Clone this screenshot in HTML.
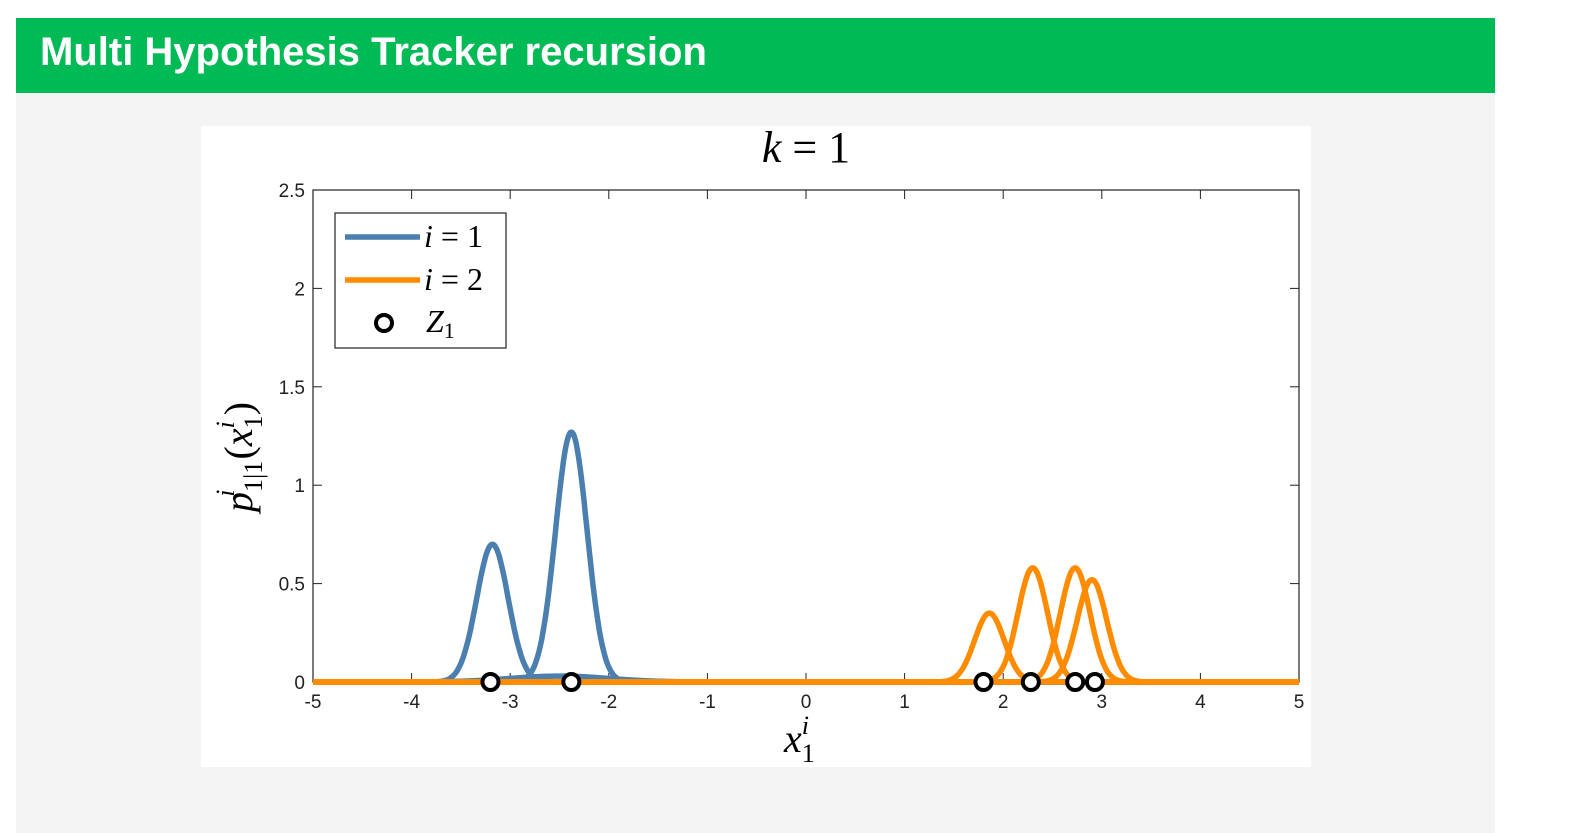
<!DOCTYPE html>
<html><head><meta charset="utf-8"><style>
body{margin:0;width:1580px;height:825px;background:#fff;position:relative;overflow:hidden;font-family:"Liberation Sans",sans-serif}
#hdr{position:absolute;left:16px;top:18px;width:1479px;height:75px;background:#00bb55}
#hdr span{position:absolute;left:24px;top:12px;color:#fff;font-weight:bold;font-size:40px}
#panel{position:absolute;left:16px;top:93px;width:1479px;height:740px;background:#f4f4f4}
#fig{position:absolute;left:201px;top:126px;width:1110px;height:641px;background:#fff}
svg{position:absolute;left:0;top:0}
</style></head><body>
<div id="hdr"><span>Multi Hypothesis Tracker recursion</span></div>
<div id="panel"></div>
<div id="fig"></div>
<svg id="chart" width="1580" height="825"></svg>
<script>
const xTicks=[-5,-4,-3,-2,-1,0,1,2,3,4,5];
const yTicks=[0,0.5,1,1.5,2,2.5];
const yTickLabels=["0","0.5","1","1.5","2","2.5"];
const blueMeans=[-3.18,-2.38,-2.5];
const blueAmps=[0.70,1.27,0.03];
const blueSigmas=[0.16,0.16,0.5];
const orangeMeans=[1.86,2.30,2.73,2.90];
const orangeAmps=[0.35,0.58,0.58,0.52];
const orangeSigmas=[0.15,0.15,0.15,0.15];
const measurements=[-3.20,-2.38,1.80,2.28,2.73,2.93];

const NS="http://www.w3.org/2000/svg";
const svg=document.getElementById('chart');
const X0=313,X1=1299,Y0=682,Y1=190;
const sx=v=>X0+(v+5)/10*(X1-X0);
const sy=v=>Y0-(v/2.5)*(Y0-Y1);
function mk(t,a,p){const e=document.createElementNS(NS,t);for(const k in a)e.setAttribute(k,a[k]);(p||svg).appendChild(e);return e;}
const box=mk('rect',{x:X0,y:Y1,width:X1-X0,height:Y0-Y1,fill:'none',stroke:'#222','stroke-width':1.2});


xTicks.forEach(t=>{
 const x=sx(t);
 const a=mk('line',{x1:x,x2:x,y1:Y0,y2:Y0-9,stroke:'#222'});
 
 
 mk('line',{x1:x,x2:x,y1:Y1,y2:Y1+9,stroke:'#222'});
 const l=mk('text',{x:x,y:Y0+26,'text-anchor':'middle','font-size':19,fill:'#222'});
 l.textContent=String(t);
 
 
});
yTicks.forEach((t,i)=>{
 const y=sy(t);
 mk('line',{x1:X0,x2:X0+9,y1:y,y2:y,stroke:'#222'});
 mk('line',{x1:X1,x2:X1-9,y1:y,y2:y,stroke:'#222'});
 const l=mk('text',{x:X0-8,y:y+7,'text-anchor':'end','font-size':19,fill:'#222'});
 l.textContent=yTickLabels[i];
 
 
});
function curvePath(m,a,s){let d='';for(let i=0;i<=1000;i++){const x=-5+i*0.01;const y=a*Math.exp(-0.5*((x-m)/s)**2);d+=(i?'L':'M')+sx(x).toFixed(1)+','+sy(y).toFixed(1);}return d;}
blueMeans.forEach((m,i)=>{
 const p=mk('path',{d:curvePath(m,blueAmps[i],blueSigmas[i]),fill:'none',stroke:'#4a7fb0','stroke-width':5.5,'stroke-linejoin':'round'});
 
 
});
orangeMeans.forEach((m,i)=>{
 const p=mk('path',{d:curvePath(m,orangeAmps[i],orangeSigmas[i]),fill:'none',stroke:'#ff8c00','stroke-width':5.5,'stroke-linejoin':'round'});
 
 
});
measurements.forEach(v=>{
 const c=mk('circle',{cx:sx(v),cy:sy(0),r:8,fill:'#fff',stroke:'#000','stroke-width':4});
 
 
});
const lg=mk('g',{});


mk('rect',{x:335,y:213,width:171,height:135,fill:'#fff',stroke:'#222','stroke-width':1.2},lg);
mk('line',{x1:345,x2:420,y1:237,y2:237,stroke:'#4a7fb0','stroke-width':5.5},lg);
mk('line',{x1:345,x2:420,y1:280,y2:280,stroke:'#ff8c00','stroke-width':5.5},lg);
mk('circle',{cx:384,cy:323,r:8,fill:'#fff',stroke:'#000','stroke-width':4},lg);
const f='font-family:"Liberation Serif",serif;font-size:32px';
const t1=mk('text',{x:424,y:247,style:f},lg);t1.innerHTML='<tspan font-style="italic">i</tspan> = 1';
const t2=mk('text',{x:424,y:290,style:f},lg);t2.innerHTML='<tspan font-style="italic">i</tspan> = 2';
const t3=mk('text',{x:426,y:332,style:f},lg);t3.innerHTML='<tspan font-style="italic">Z</tspan><tspan font-size="22" dy="6">1</tspan>';
const title=mk('text',{x:806,y:162,'text-anchor':'middle',style:'font-family:"Liberation Serif",serif;font-size:44px'});
title.innerHTML='<tspan font-style="italic">k</tspan> = 1';


const xl=mk('text',{x:784,y:752,style:'font-family:"Liberation Serif",serif;font-size:40px'});
xl.innerHTML='<tspan font-style="italic">x</tspan><tspan font-size="26" dy="10">1</tspan><tspan font-size="26" font-style="italic" dx="-13" dy="-28">i</tspan>';


const yl=mk('text',{x:0,y:0,transform:'translate(252,512) rotate(-90)',style:'font-family:"Liberation Serif",serif;font-size:40px'});
yl.innerHTML='<tspan font-style="italic">p</tspan><tspan font-size="26" dy="10">1|1</tspan><tspan font-size="26" font-style="italic" dx="-36" dy="-28">i</tspan><tspan dx="30" dy="18">(</tspan><tspan font-style="italic">x</tspan><tspan font-size="26" dy="10">1</tspan><tspan font-size="26" font-style="italic" dx="-13" dy="-28">i</tspan><tspan dx="6" dy="18">)</tspan>';


</script>
</body></html>
